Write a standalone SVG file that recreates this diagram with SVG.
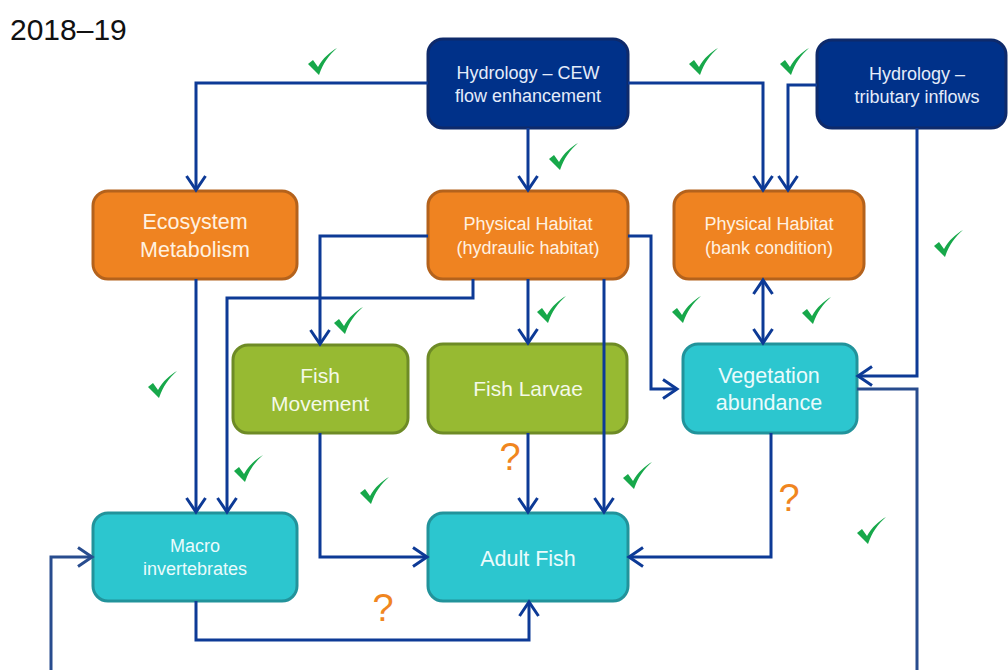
<svg xmlns="http://www.w3.org/2000/svg" width="1008" height="670" viewBox="0 0 1008 670">
<style>
  .box { stroke-width: 3; }
  .blue { fill: #003189; stroke: #0E2A6B; }
  .orange { fill: #EF8321; stroke: #B4621C; }
  .green { fill: #97BA32; stroke: #6E8B26; }
  .cyan { fill: #2CC6CF; stroke: #22939B; }
  .t { font-family: "Liberation Sans", Arial, sans-serif; text-anchor: middle; }
  .tb { fill: #E4ECFA; font-size: 18px; }
  .to { fill: #FFF1E0; }
  .tg { fill: #F4F9E8; font-size: 21px; }
  .tc { fill: #EAFBFC; }
  .s17 { font-size: 18px; }
  .s21 { font-size: 21.5px; }
  .conn { fill: none; stroke: #0D3A96; stroke-width: 3; }
  .loop { fill: none; stroke: #284C8E; stroke-width: 3; }
  .q { font-family: "Liberation Sans", Arial, sans-serif; font-size: 38px; fill: #F0861F; text-anchor: middle; }
  .chk { fill: #17A84A; }
</style>
<defs>
  <marker id="ah" markerUnits="userSpaceOnUse" markerWidth="22" markerHeight="24" refX="17" refY="12" orient="auto-start-reverse">
    <path d="M3,2.5 L17,12 L3,21.5" fill="none" stroke="#0D3A96" stroke-width="3"/>
  </marker>
  <marker id="ahl" markerUnits="userSpaceOnUse" markerWidth="22" markerHeight="24" refX="17" refY="12" orient="auto">
    <path d="M3,2.5 L17,12 L3,21.5" fill="none" stroke="#284C8E" stroke-width="3"/>
  </marker>
  <path id="chk" d="M0,16 L5,12 L10,19 C15,10 22,4 29,0 C21,7 15,15 11,27 Z"/>
</defs>

<text x="10" y="40" font-family="Liberation Sans, Arial, sans-serif" font-size="30" fill="#111">2018–19</text>

<g id="node-hydro-cew">
  <rect class="box blue" x="428" y="39" width="200" height="89" rx="15"/>
  <text class="t tb" x="528" y="79">Hydrology – CEW</text>
  <text class="t tb" x="528" y="102">flow enhancement</text>
</g>
<g id="node-hydro-trib">
  <rect class="box blue" x="817" y="40" width="189" height="88" rx="15"/>
  <text class="t tb" x="917" y="80">Hydrology –</text>
  <text class="t tb" x="917" y="103">tributary inflows</text>
</g>
<g id="node-ecosystem">
  <rect class="box orange" x="93" y="191" width="204" height="88" rx="15"/>
  <text class="t to s21" x="195" y="229">Ecosystem</text>
  <text class="t to s21" x="195" y="257">Metabolism</text>
</g>
<g id="node-phys-hydraulic">
  <rect class="box orange" x="428" y="191" width="200" height="88" rx="15"/>
  <text class="t to s17" x="528" y="230">Physical Habitat</text>
  <text class="t to s17" x="528" y="254">(hydraulic habitat)</text>
</g>
<g id="node-phys-bank">
  <rect class="box orange" x="674" y="191" width="190" height="88" rx="15"/>
  <text class="t to s17" x="769" y="230">Physical Habitat</text>
  <text class="t to s17" x="769" y="254">(bank condition)</text>
</g>
<g id="node-fish-movement">
  <rect class="box green" x="233" y="345" width="175" height="88" rx="15"/>
  <text class="t tg" x="320" y="383">Fish</text>
  <text class="t tg" x="320" y="411">Movement</text>
</g>
<g id="node-fish-larvae">
  <rect class="box green" x="428" y="344" width="199" height="89" rx="15"/>
  <text class="t tg" x="528" y="396">Fish Larvae</text>
</g>
<g id="node-vegetation">
  <rect class="box cyan" x="683" y="344" width="174" height="89" rx="15"/>
  <text class="t tc s21" x="769" y="383">Vegetation</text>
  <text class="t tc s21" x="769" y="410">abundance</text>
</g>
<g id="node-macro">
  <rect class="box cyan" x="93" y="513" width="204" height="88" rx="15"/>
  <text class="t tc s17" x="195" y="552">Macro</text>
  <text class="t tc s17" x="195" y="575">invertebrates</text>
</g>
<g id="node-adult-fish">
  <rect class="box cyan" x="428" y="513" width="200" height="88" rx="15"/>
  <text class="t tc s21" x="528" y="566">Adult Fish</text>
</g>

<g id="connectors">
  <polyline class="conn" points="428,83 196,83 196,190" marker-end="url(#ah)"/>
  <polyline class="conn" points="528,128 528,190" marker-end="url(#ah)"/>
  <polyline class="conn" points="628,83 763,83 763,190" marker-end="url(#ah)"/>
  <polyline class="conn" points="817,85 788,85 788,190" marker-end="url(#ah)"/>
  <polyline class="conn" points="917,128 917,376 858,376" marker-end="url(#ah)"/>
  <polyline class="conn" points="428,236 320,236 320,344" marker-end="url(#ah)"/>
  <polyline class="conn" points="473,279 473,298 227,298 227,512" marker-end="url(#ah)"/>
  <polyline class="conn" points="196,279 196,512" marker-end="url(#ah)"/>
  <polyline class="conn" points="528,279 528,343" marker-end="url(#ah)"/>
  <polyline class="conn" points="628,236 651,236 651,389 677,389" marker-end="url(#ah)"/>
  <polyline class="conn" points="604,279 604,512" marker-end="url(#ah)"/>
  <polyline class="conn" points="528,433 528,512" marker-end="url(#ah)"/>
  <polyline class="conn" points="763,280 763,343" marker-start="url(#ah)" marker-end="url(#ah)"/>
  <polyline class="conn" points="320,433 320,557 427,557" marker-end="url(#ah)"/>
  <polyline class="conn" points="771,433 771,557 629,557" marker-end="url(#ah)"/>
  <polyline class="conn" points="196,601 196,640 529,640 529,602" marker-end="url(#ah)"/>
  <polyline class="loop" points="857,389 917,389 917,670"/>
  <polyline class="loop" points="51,670 51,557 92,557" marker-end="url(#ahl)"/>
</g>

<g id="ticks">
  <use class="chk" href="#chk" x="308" y="48"/>
  <use class="chk" href="#chk" x="549" y="143"/>
  <use class="chk" href="#chk" x="689" y="48"/>
  <use class="chk" href="#chk" x="780" y="48"/>
  <use class="chk" href="#chk" x="934" y="230"/>
  <use class="chk" href="#chk" x="334" y="307"/>
  <use class="chk" href="#chk" x="537" y="296"/>
  <use class="chk" href="#chk" x="672" y="296"/>
  <use class="chk" href="#chk" x="802" y="297"/>
  <use class="chk" href="#chk" x="148" y="371"/>
  <use class="chk" href="#chk" x="234" y="455"/>
  <use class="chk" href="#chk" x="360" y="477"/>
  <use class="chk" href="#chk" x="623" y="462"/>
  <use class="chk" href="#chk" x="857" y="517"/>
  <text class="q" x="510" y="470">?</text>
  <text class="q" x="383" y="621">?</text>
  <text class="q" x="789" y="511">?</text>
</g>
</svg>
